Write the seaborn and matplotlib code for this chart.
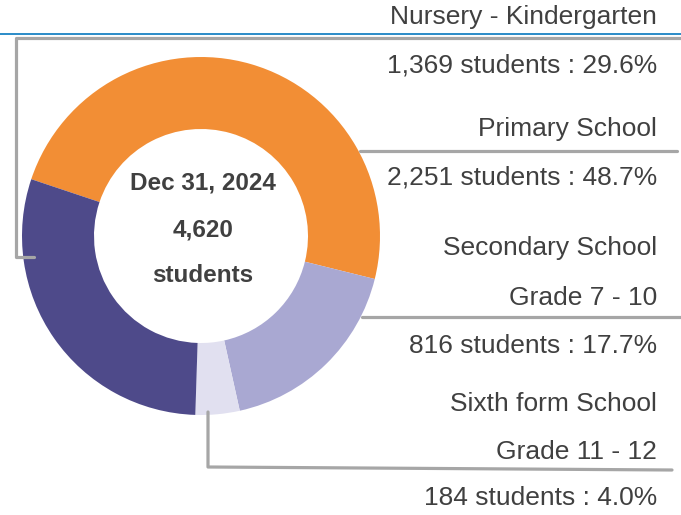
import matplotlib
matplotlib.use("Agg")
import matplotlib.pyplot as plt
import seaborn as sns

# ---- data ----
categories = ["Nursery - Kindergarten", "Primary School", "Secondary School", "Sixth form School"]
grades = ["", "", "Grade 7 - 10", "Grade 11 - 12"]
students = [1369, 2251, 816, 184]
percents = [29.6, 48.7, 17.7, 4.0]
total_label = ["Dec 31, 2024", "4,620", "students"]
colors = ["#4E4A8A", "#F28E35", "#A9A8D2", "#E1E0F0"]

sns.set_theme(style="white")
plt.rcParams["font.family"] = ["Liberation Sans", "DejaVu Sans"]

W, H = 681, 515
fig = plt.figure(figsize=(W / 100, H / 100), dpi=100)
ax = fig.add_axes([0, 0, 1, 1])

def Y(y):
    return H - y

# pie order clockwise from upper-left: Primary, Secondary, Sixth, Nursery
order = [1, 2, 3, 0]
cx, cy, R = 201, 236, 179
ax.pie([students[i] for i in order], colors=[colors[i] for i in order],
       startangle=161.5, counterclock=False, radius=R, center=(cx, Y(cy)),
       wedgeprops=dict(width=72, linewidth=0))

ax.set_xlim(0, W)
ax.set_ylim(0, H)
ax.set_aspect("equal")
ax.axis("off")

gray = "#A6A6A6"
lw = 2.3
# blue top line
ax.plot([0, W], [Y(34), Y(34)], color="#2A8BC8", lw=1.4, solid_capstyle="butt", zorder=5)
# connectors
ax.plot([34, 16, 16, W], [Y(257), Y(257), Y(37.5), Y(37.5)], color=gray, lw=lw, zorder=4)
ax.plot([360, 677], [Y(151), Y(151)], color=gray, lw=lw, zorder=4)
ax.plot([362, W], [Y(317), Y(317)], color=gray, lw=lw, zorder=4)
ax.plot([208, 208, 672], [Y(412), Y(467), Y(470)], color=gray, lw=lw, zorder=4)

# right-side labels
txt = "#404040"
fs = 19
xr = 657
lines = [
    (17, categories[0]),
    (66, f"{students[0]:,} students : {percents[0]:.1f}%"),
    (129, categories[1]),
    (178, f"{students[1]:,} students : {percents[1]:.1f}%"),
    (248, categories[2]),
    (298, grades[2]),
    (346, f"{students[2]:,} students : {percents[2]:.1f}%"),
    (404, categories[3]),
    (452, grades[3]),
    (498, f"{students[3]:,} students : {percents[3]:.1f}%"),
]
for y, s in lines:
    ax.text(xr, Y(y), s, ha="right", va="center", fontsize=fs, color=txt)

# center labels
for y, s in zip([183, 230, 275], total_label):
    ax.text(203, Y(y), s, ha="center", va="center", fontsize=17.5,
            fontweight="bold", color="#404040")

fig.savefig("out.png", dpi=100)
